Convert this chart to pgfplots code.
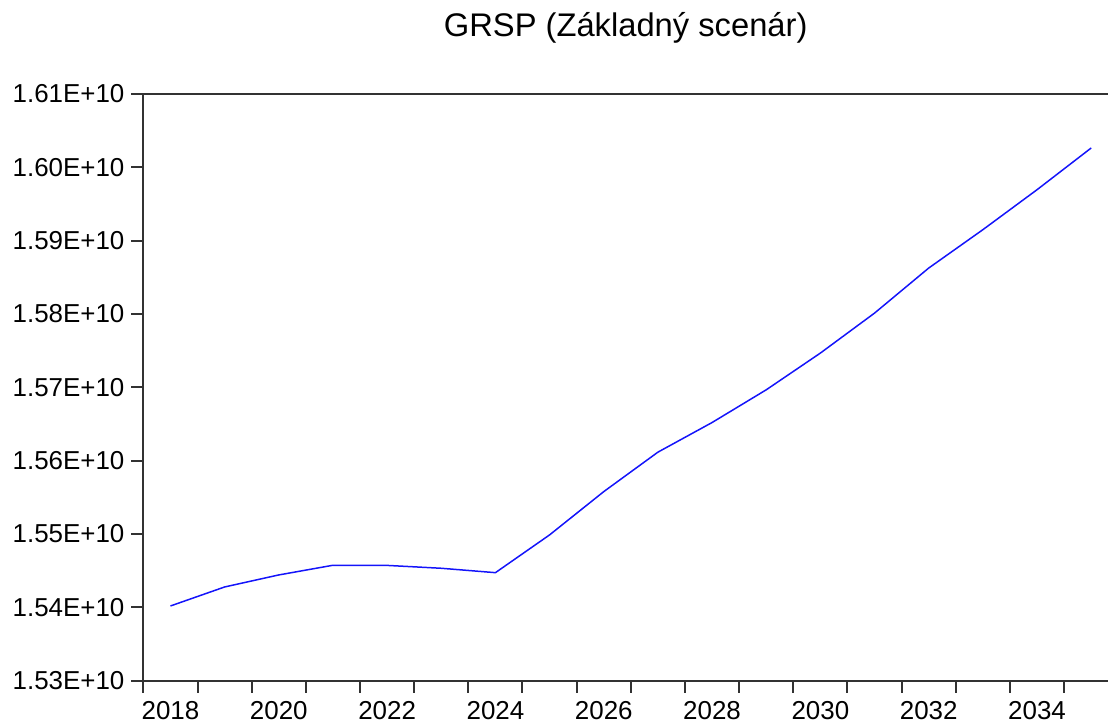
\documentclass[border=0pt]{standalone}
\usepackage{fontspec}
\setmainfont{Liberation Sans}
\usepackage{pgfplots}
\pgfplotsset{compat=1.18}
\definecolor{spine}{RGB}{50,50,50}
\definecolor{series}{RGB}{20,20,250}
\begin{document}
\begin{tikzpicture}
\begin{axis}[
    scale only axis,
    width=483.6pt,
    height=294.2pt,
    xmin=2018, xmax=2035.81,
    ymin=1.53e10, ymax=1.61e10,
    axis x line*=box,
    axis y line*=left,
    axis line style={spine, line width=1pt},
    xtick pos=bottom,
    ytick pos=left,
    tick align=outside,
    major tick length=6pt,
    tick style={spine, line width=1pt},
    xtick={2018,...,2035},
    xticklabels={},
    extra x ticks={2018.5,2020.5,2022.5,2024.5,2026.5,2028.5,2030.5,2032.5,2034.5},
    extra x tick labels={2018,2020,2022,2024,2026,2028,2030,2032,2034},
    extra x tick style={grid=none, major tick length=0pt,
        xticklabel style={yshift=-7pt}},
    ytick={1.53e10,1.54e10,1.55e10,1.56e10,1.57e10,1.58e10,1.59e10,1.60e10,1.61e10},
    yticklabels={1.53E+10,1.54E+10,1.55E+10,1.56E+10,1.57E+10,1.58E+10,1.59E+10,1.60E+10,1.61E+10},
    scaled y ticks=false,
    ticklabel style={font=\fontsize{13}{15}\selectfont, text=black},
    title={GRSP (Základný scenár)},
    title style={font=\fontsize{16.4}{19}\selectfont, at={(0.5,1)}, anchor=base, yshift=23pt, inner sep=0pt},
]
\addplot[series, line width=0.75pt] coordinates {
(2018.5,1.54019e10) (2019.5,1.54278e10) (2020.5,1.54442e10) (2021.5,1.54574e10)
(2022.5,1.54572e10) (2023.5,1.54533e10) (2024.5,1.54473e10) (2025.5,1.54988e10)
(2026.5,1.55578e10) (2027.5,1.56116e10) (2028.5,1.56520e10) (2029.5,1.56966e10)
(2030.5,1.57467e10) (2031.5,1.58012e10) (2032.5,1.58626e10) (2033.5,1.59149e10)
(2034.5,1.59694e10) (2035.5,1.60263e10)
};
\end{axis}
\path (current bounding box.west) ++(-3pt,0);
\path (current bounding box.north) ++(0,6pt);
\end{tikzpicture}
\end{document}
